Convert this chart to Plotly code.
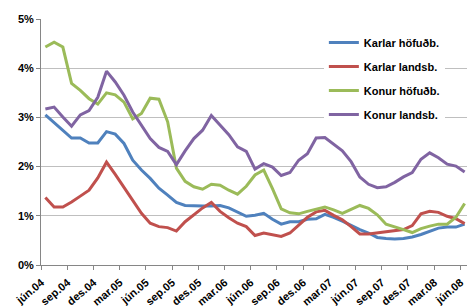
import plotly.graph_objects as go

months = ["jún.04","júl.04","ágú.04","sep.04","okt.04","nóv.04","des.04","jan.05","feb.05",
          "mar.05","apr.05","maí.05","jún.05","júl.05","ágú.05","sep.05","okt.05","nóv.05",
          "des.05","jan.06","feb.06","mar.06","apr.06","maí.06","jún.06","júl.06","ágú.06",
          "sep.06","okt.06","nóv.06","des.06","jan.07","feb.07","mar.07","apr.07","maí.07",
          "jún.07","júl.07","ágú.07","sep.07","okt.07","nóv.07","des.07","jan.08","feb.08",
          "mar.08","apr.08","maí.08","jún.08"]

karlar_hofudb = [3.05,2.89,2.72,2.58,2.58,2.48,2.48,2.71,2.66,2.47,2.13,1.93,1.76,1.56,1.42,1.27,1.21,
                 1.20,1.20,1.20,1.21,1.16,1.08,0.99,1.01,1.05,0.93,0.83,0.88,0.88,0.93,0.94,1.03,
                 0.97,0.89,0.80,0.72,0.65,0.56,0.54,0.53,0.54,0.57,0.62,0.69,0.75,0.77,0.77,0.83]
karlar_landsb = [1.37,1.18,1.18,1.28,1.40,1.52,1.77,2.09,1.84,1.57,1.32,1.05,0.85,0.78,0.76,0.69,0.88,
                 1.02,1.16,1.27,1.09,0.96,0.85,0.78,0.60,0.65,0.62,0.58,0.65,0.81,0.97,1.08,1.11,
                 1.01,0.92,0.78,0.63,0.63,0.65,0.67,0.69,0.72,0.80,1.04,1.09,1.07,0.99,0.94,0.84]
konur_hofudb = [4.43,4.53,4.43,3.69,3.55,3.38,3.27,3.50,3.46,3.31,2.97,3.08,3.39,3.37,2.91,1.97,1.70,
                1.59,1.54,1.64,1.62,1.52,1.44,1.60,1.83,1.93,1.55,1.14,1.06,1.04,1.09,1.14,1.18,
                1.12,1.05,1.13,1.21,1.15,1.02,0.83,0.78,0.72,0.66,0.74,0.79,0.83,0.83,0.97,1.25]
konur_landsb = [3.17,3.21,3.01,2.82,3.05,3.14,3.41,3.94,3.72,3.45,3.11,2.84,2.57,2.39,2.31,2.04,2.32,
                2.57,2.74,3.04,2.84,2.65,2.40,2.31,1.95,2.06,1.99,1.82,1.88,2.13,2.26,2.58,2.59,
                2.46,2.32,2.10,1.79,1.64,1.57,1.59,1.68,1.79,1.88,2.15,2.28,2.18,2.05,2.01,1.89]

series_names = ["Karlar höfuðb.", "Karlar landsb.", "Konur höfuðb.", "Konur landsb."]
series_values = [karlar_hofudb, karlar_landsb, konur_hofudb, konur_landsb]
series_colors = ["#4F81BD", "#C0504D", "#9BBB59", "#8064A2"]

y_ticks = [0, 1, 2, 3, 4, 5]
y_labels = ["0%", "1%", "2%", "3%", "4%", "5%"]

idx = list(range(len(months)))
label_idx = idx[::3]
label_text = [months[i] for i in label_idx]

fig = go.Figure()
for name, vals, col in zip(series_names, series_values, series_colors):
    fig.add_trace(go.Scatter(x=idx, y=vals, name=name, mode="lines",
                             line=dict(color=col, width=3), legendgroup=name))

font_family = "Liberation Sans, Arial, sans-serif"
fig.update_layout(
    width=467, height=307,
    margin=dict(l=41, r=0, t=19, b=42, autoexpand=False),
    paper_bgcolor="white", plot_bgcolor="white",
    font=dict(family=font_family, size=11, color="black", weight="bold"),
    showlegend=True,
    legend=dict(x=0.664, y=0.963, xanchor="left", yanchor="top",
                bgcolor="white", font=dict(size=11, weight="bold"),
                tracegroupgap=5, itemwidth=30),
    xaxis=dict(range=[-0.5, 48.27], showgrid=False, zeroline=False, automargin=False,
               showline=True, linecolor="#868686", linewidth=1,
               tickmode="array", tickvals=label_idx, ticktext=label_text,
               ticks="", tickangle=-40, ticklabeloverflow="allow", ticklabelstandoff=6,
               ticklabelshift=-4,
               minor=dict(tickmode="array", tickvals=[i - 0.5 for i in label_idx],
                          ticks="outside", ticklen=4, tickcolor="#868686", showgrid=False)),
    yaxis=dict(range=[0, 5], tickmode="array", tickvals=y_ticks, ticktext=y_labels,
               automargin=False,
               showgrid=True, gridcolor="#BFBFBF", gridwidth=1, zeroline=False,
               showline=True, linecolor="#868686", linewidth=1,
               ticks="outside", ticklen=4, tickcolor="#868686"),
)

fig.write_html("out.html", config={"displayModeBar": False},
               post_script="document.body.style.margin='0';")
